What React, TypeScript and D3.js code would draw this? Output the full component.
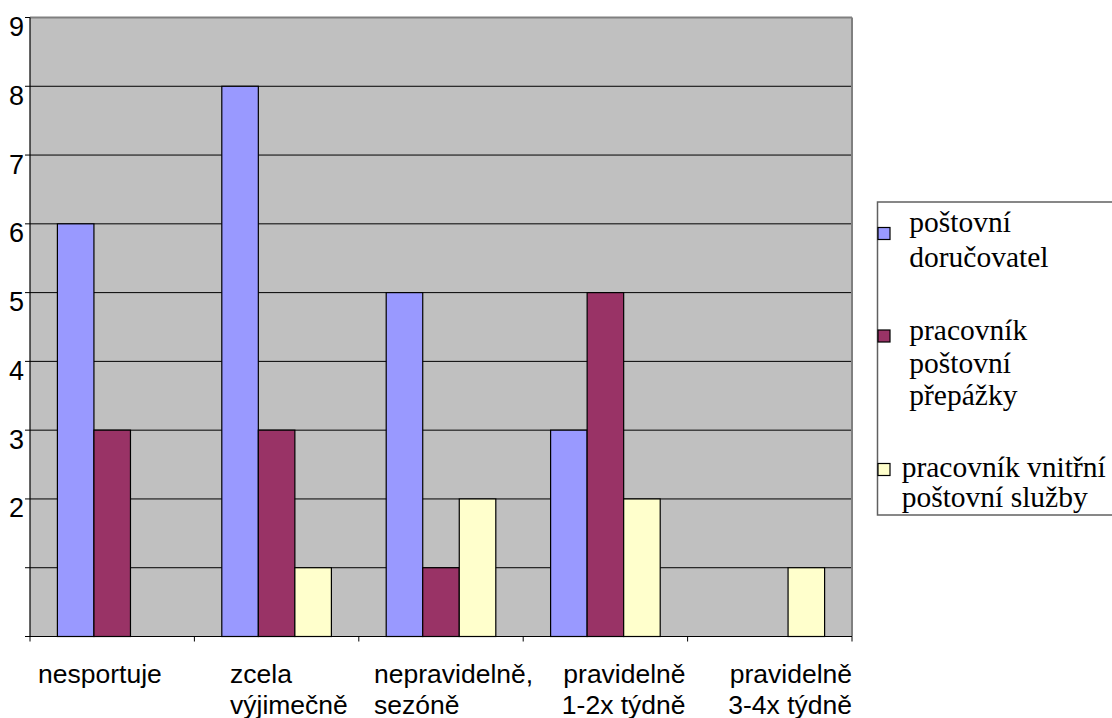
import React from "react";
import * as d3 from "d3";

// Frequency of sport activity by job position
const categories = ["nesportuje", "zcela výjimečně", "nepravidelně, sezóně", "pravidelně 1-2x týdně", "pravidelně 3-4x týdně"];
const categoryLines = [["nesportuje"], ["zcela", "výjimečně"], ["nepravidelně,", "sezóně"], ["pravidelně", "1-2x týdně"], ["pravidelně", "3-4x týdně"]];

const seriesNames = ["poštovní doručovatel", "pracovník poštovní přepážky", "pracovník vnitřní poštovní služby"];
const legendLines = [["poštovní", "doručovatel"], ["pracovník", "poštovní", "přepážky"], ["pracovník vnitřní", "poštovní služby"]];
const seriesColors = ["#9999FF", "#993366", "#FFFFCC"];

const dorucovatel = [6, 8, 5, 3, 0];
const prepazka = [3, 3, 1, 5, 0];
const vnitrni = [0, 1, 2, 2, 1];
const seriesValues = [dorucovatel, prepazka, vnitrni];

const yTicks = [0, 1, 2, 3, 4, 5, 6, 7, 8, 9];
const yTickLabels = ["", "", "2", "3", "4", "5", "6", "7", "8", "9"];

const W = 1112;
const H = 718;
const plot = { left: 30, right: 852, top: 17.5, bottom: 636.5 };

// label placement under each category: [anchor, offset from band edge]
const labelPlacement: [string, number][] = [
  ["start", 8],
  ["start", 35.6],
  ["start", 15.2],
  ["end", -2],
  ["end", 0],
];

const sans = { fontFamily: '"Liberation Sans"' };
const serif = { fontFamily: '"Liberation Serif"' };

export default function App() {
  const x = d3.scaleBand<string>().domain(categories).range([plot.left, plot.right]).paddingInner(0).paddingOuter(0);
  const xs = d3
    .scaleBand<string>()
    .domain(seriesNames)
    .range([0, x.step()])
    .paddingInner(0)
    .paddingOuter(0.75);
  const y = d3.scaleLinear().domain([0, 9]).range([plot.bottom, plot.top]);

  const legendItems = [
    { marker: 227.5, textX: 909.3, base: 231.7, step: 35 },
    { marker: 330, textX: 909.3, base: 340, step: 32.5 },
    { marker: 463.5, textX: 901.7, base: 476.7, step: 30 },
  ];

  return (
    <svg width={W} height={H} style={{ position: "absolute", left: 0, top: 0, background: "#fff" }}>
      {/* plot area */}
      <rect x={plot.left} y={plot.top} width={plot.right - plot.left} height={plot.bottom - plot.top} fill="#C0C0C0" />
      {yTicks.slice(1, -1).map((t) => (
        <line key={"g" + t} x1={plot.left} x2={plot.right} y1={y(t)} y2={y(t)} stroke="#000" strokeWidth={1} />
      ))}
      <line x1={plot.left} x2={plot.right} y1={plot.top} y2={plot.top} stroke="#808080" strokeWidth={2} />
      <line x1={plot.right} x2={plot.right} y1={plot.top} y2={plot.bottom} stroke="#808080" strokeWidth={2} />

      {/* bars */}
      {seriesValues.map((vals, si) =>
        vals.map((v, ci) =>
          v > 0 ? (
            <rect
              key={si + "-" + ci}
              x={(x(categories[ci]) as number) + (xs(seriesNames[si]) as number)}
              y={y(v)}
              width={xs.bandwidth()}
              height={y(0) - y(v)}
              fill={seriesColors[si]}
              stroke="#000"
              strokeWidth={1.2}
            />
          ) : null
        )
      )}

      {/* y axis */}
      <line x1={plot.left} x2={plot.left} y1={plot.top} y2={plot.bottom} stroke="#000" strokeWidth={1.2} />
      {yTicks.map((t, i) => (
        <g key={"yt" + t}>
          <line x1={plot.left - 5} x2={plot.left} y1={y(t)} y2={y(t)} stroke="#000" strokeWidth={1} />
          <text x={plot.left - 6} y={y(t) + 18.5} textAnchor="end" style={sans} fontSize={27} fill="#000">
            {yTickLabels[i]}
          </text>
        </g>
      ))}

      {/* x axis */}
      <line x1={plot.left} x2={plot.right} y1={plot.bottom} y2={plot.bottom} stroke="#000" strokeWidth={1.2} />
      {[...categories.map((c) => x(c) as number), plot.right].map((px, i) => (
        <line key={"xt" + i} x1={px} x2={px} y1={plot.bottom} y2={plot.bottom + 5} stroke="#000" strokeWidth={1} />
      ))}
      {categories.map((c, ci) => {
        const [anchor, off] = labelPlacement[ci];
        const bx = anchor === "start" ? (x(c) as number) + off : (x(c) as number) + x.bandwidth() + off;
        return (
          <text key={"xl" + ci} style={sans} fontSize={26.5} fill="#000" textAnchor={anchor}>
            {categoryLines[ci].map((ln, li) => (
              <tspan key={li} x={bx} y={683 + li * 30.5}>
                {ln}
              </tspan>
            ))}
          </text>
        );
      })}

      {/* legend */}
      <rect x={877.5} y={202} width={250} height={313} fill="#fff" stroke="#606060" strokeWidth={1.5} />
      {legendItems.map((it, si) => (
        <g key={"lg" + si}>
          <rect x={878} y={it.marker} width={12} height={12} fill={seriesColors[si]} stroke="#000" strokeWidth={1.2} />
          <text style={serif} fontSize={29.5} fill="#000">
            {legendLines[si].map((ln, li) => (
              <tspan key={li} x={it.textX} y={it.base + li * it.step}>
                {ln}
              </tspan>
            ))}
          </text>
        </g>
      ))}
    </svg>
  );
}
